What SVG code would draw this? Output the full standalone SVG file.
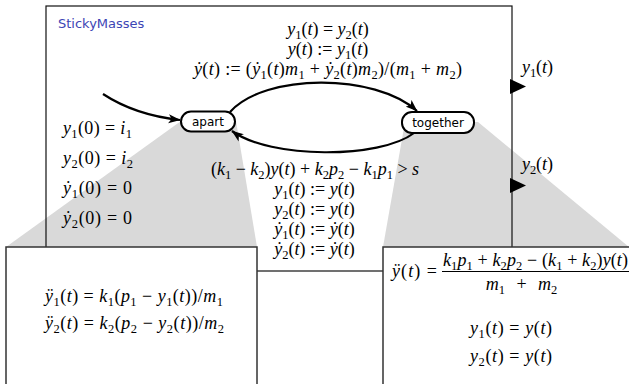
<svg xmlns="http://www.w3.org/2000/svg" width="629" height="384" viewBox="0 0 629 384">
<style>
.m{font-family:"Liberation Serif","DejaVu Serif","Times New Roman",serif;font-size:18px;fill:#000}
.i{font-style:italic}
.s{font-size:12.5px;font-style:normal}
.c{text-anchor:middle}
.sans{font-family:"DejaVu Sans","Liberation Sans",sans-serif}
.node{fill:#fff;stroke:#000;stroke-width:2}
.nl{font-size:12px;fill:#000;text-anchor:middle}
.shade{fill:#d9d9d9;stroke:none}
.box{fill:#fff;stroke:#333;stroke-width:1.5}
.edge{fill:none;stroke:#000;stroke-width:2.2}
.port{fill:#000}
</style>
<defs>
<marker id="ah" viewBox="0 0 12 10" refX="11.5" refY="5" markerWidth="12" markerHeight="10" markerUnits="userSpaceOnUse" orient="auto">
<path d="M0,0.5 L12,5 L0,9.5 L3,5 Z" fill="#000"/>
</marker>
</defs>

<g id="StickyMasses">
<rect x="46" y="6" width="466" height="265" fill="#fff" stroke="none"/>
<polygon class="shade" points="181,121 236,121 257,247 6,247"/>
<polygon class="shade" points="405,122 478,122 629,247 383,247"/>
<rect x="46" y="6" width="466" height="265" fill="none" stroke="#111" stroke-width="1.2"/>
<text class="sans" x="58" y="28" font-size="13" fill="#3c45b5">StickyMasses</text>
</g>

<g id="ports">
<polygon class="port" points="510,79 526,86.5 510,94"/>
<polygon class="port" points="510,178 526,185.5 510,193"/>
<text class="m" x="522" y="73" textLength="31" lengthAdjust="spacing"><tspan class="i">y</tspan><tspan class="s" dy="3.5">1</tspan><tspan dy="-3.5">(</tspan><tspan class="i">t</tspan>)</text>
<text class="m" x="522" y="170" textLength="31" lengthAdjust="spacing"><tspan class="i">y</tspan><tspan class="s" dy="3.5">2</tspan><tspan dy="-3.5">(</tspan><tspan class="i">t</tspan>)</text>
</g>

<g id="initial-values">
<text class="m" x="63" y="134" textLength="69" lengthAdjust="spacing"><tspan class="i">y</tspan><tspan class="s" dy="3.5">1</tspan><tspan dy="-3.5">(0) = </tspan><tspan class="i">i</tspan><tspan class="s" dy="3.5">1</tspan></text>
<text class="m" x="63" y="164" textLength="70" lengthAdjust="spacing"><tspan class="i">y</tspan><tspan class="s" dy="3.5">2</tspan><tspan dy="-3.5">(0) = </tspan><tspan class="i">i</tspan><tspan class="s" dy="3.5">2</tspan></text>
<text class="m" x="63" y="194" textLength="69" lengthAdjust="spacing"><tspan class="i">ẏ</tspan><tspan class="s" dy="3.5">1</tspan><tspan dy="-3.5">(0) = 0</tspan></text>
<text class="m" x="63" y="224" textLength="69" lengthAdjust="spacing"><tspan class="i">ẏ</tspan><tspan class="s" dy="3.5">2</tspan><tspan dy="-3.5">(0) = 0</tspan></text>
</g>

<g id="connectors">
<path class="edge" d="M103,94 Q135,115 180,120" marker-end="url(#ah)"/>
<path class="edge" d="M230,112 C265,73 375,73 417,111" marker-end="url(#ah)"/>
<path class="edge" d="M414,133 C380,159 270,159 232,131" marker-end="url(#ah)"/>
</g>

<g id="label-apart-to-together">
<text class="m c"><tspan x="328" y="35"><tspan class="i">y</tspan><tspan class="s" dy="3.5">1</tspan><tspan dy="-3.5">(</tspan><tspan class="i">t</tspan>) = <tspan class="i">y</tspan><tspan class="s" dy="3.5">2</tspan><tspan dy="-3.5">(</tspan><tspan class="i">t</tspan>)</tspan><tspan x="328" y="55"><tspan class="i">y</tspan>(<tspan class="i">t</tspan>) := <tspan class="i">y</tspan><tspan class="s" dy="3.5">1</tspan><tspan dy="-3.5">(</tspan><tspan class="i">t</tspan>)</tspan><tspan x="328" y="75" textLength="268" lengthAdjust="spacing"><tspan class="i">ẏ</tspan>(<tspan class="i">t</tspan>) := (<tspan class="i">ẏ</tspan><tspan class="s" dy="3.5">1</tspan><tspan dy="-3.5">(</tspan><tspan class="i">t</tspan>)<tspan class="i">m</tspan><tspan class="s" dy="3.5">1</tspan><tspan dy="-3.5"> + </tspan><tspan class="i">ẏ</tspan><tspan class="s" dy="3.5">2</tspan><tspan dy="-3.5">(</tspan><tspan class="i">t</tspan>)<tspan class="i">m</tspan><tspan class="s" dy="3.5">2</tspan><tspan dy="-3.5">)/(</tspan><tspan class="i">m</tspan><tspan class="s" dy="3.5">1</tspan><tspan dy="-3.5"> + </tspan><tspan class="i">m</tspan><tspan class="s" dy="3.5">2</tspan><tspan dy="-3.5">)</tspan></tspan></text>
</g>

<g id="label-together-to-apart">
<text class="m c"><tspan x="315" y="175">(<tspan class="i">k</tspan><tspan class="s" dy="3.5">1</tspan><tspan dy="-3.5"> − </tspan><tspan class="i">k</tspan><tspan class="s" dy="3.5">2</tspan><tspan dy="-3.5">)</tspan><tspan class="i">y</tspan>(<tspan class="i">t</tspan>) + <tspan class="i">k</tspan><tspan class="s" dy="3.5">2</tspan><tspan class="i" dy="-3.5">p</tspan><tspan class="s" dy="3.5">2</tspan><tspan dy="-3.5"> − </tspan><tspan class="i">k</tspan><tspan class="s" dy="3.5">1</tspan><tspan class="i" dy="-3.5">p</tspan><tspan class="s" dy="3.5">1</tspan><tspan dy="-3.5"> &gt; </tspan><tspan class="i">s</tspan></tspan><tspan x="314.5" y="195"><tspan class="i">y</tspan><tspan class="s" dy="3.5">1</tspan><tspan dy="-3.5">(</tspan><tspan class="i">t</tspan>) := <tspan class="i">y</tspan>(<tspan class="i">t</tspan>)</tspan><tspan x="314.5" y="215"><tspan class="i">y</tspan><tspan class="s" dy="3.5">2</tspan><tspan dy="-3.5">(</tspan><tspan class="i">t</tspan>) := <tspan class="i">y</tspan>(<tspan class="i">t</tspan>)</tspan><tspan x="314.5" y="235"><tspan class="i">ẏ</tspan><tspan class="s" dy="3.5">1</tspan><tspan dy="-3.5">(</tspan><tspan class="i">t</tspan>) := <tspan class="i">ẏ</tspan>(<tspan class="i">t</tspan>)</tspan><tspan x="314.5" y="255"><tspan class="i">ẏ</tspan><tspan class="s" dy="3.5">2</tspan><tspan dy="-3.5">(</tspan><tspan class="i">t</tspan>) := <tspan class="i">ẏ</tspan>(<tspan class="i">t</tspan>)</tspan></text>
</g>

<g id="apart">
<rect class="node" x="181" y="111.5" width="54" height="20" rx="10"/>
<text class="sans nl" x="208" y="125.5">apart</text>
</g>

<g id="together">
<rect class="node" x="402" y="112" width="72" height="21" rx="10"/>
<text class="sans nl" x="438" y="126.5">together</text>
</g>

<g id="refinement-apart">
<rect class="box" x="6" y="247" width="251" height="140"/>
<text class="m" x="45" y="302" textLength="178" lengthAdjust="spacing"><tspan class="i">ÿ</tspan><tspan class="s" dy="3.5">1</tspan><tspan dy="-3.5">(</tspan><tspan class="i">t</tspan>) = <tspan class="i">k</tspan><tspan class="s" dy="3.5">1</tspan><tspan dy="-3.5">(</tspan><tspan class="i">p</tspan><tspan class="s" dy="3.5">1</tspan><tspan dy="-3.5"> − </tspan><tspan class="i">y</tspan><tspan class="s" dy="3.5">1</tspan><tspan dy="-3.5">(</tspan><tspan class="i">t</tspan>))/<tspan class="i">m</tspan><tspan class="s" dy="3.5">1</tspan></text>
<text class="m" x="45" y="329" textLength="179" lengthAdjust="spacing"><tspan class="i">ÿ</tspan><tspan class="s" dy="3.5">2</tspan><tspan dy="-3.5">(</tspan><tspan class="i">t</tspan>) = <tspan class="i">k</tspan><tspan class="s" dy="3.5">2</tspan><tspan dy="-3.5">(</tspan><tspan class="i">p</tspan><tspan class="s" dy="3.5">2</tspan><tspan dy="-3.5"> − </tspan><tspan class="i">y</tspan><tspan class="s" dy="3.5">2</tspan><tspan dy="-3.5">(</tspan><tspan class="i">t</tspan>))/<tspan class="i">m</tspan><tspan class="s" dy="3.5">2</tspan></text>
</g>

<g id="refinement-together">
<rect class="box" x="383" y="247" width="250" height="140"/>
<text class="m" x="392" y="277" textLength="45" lengthAdjust="spacing"><tspan class="i">ÿ</tspan>(<tspan class="i">t</tspan>) =</text>
<text class="m" x="443" y="266" textLength="185" lengthAdjust="spacing"><tspan class="i">k</tspan><tspan class="s" dy="3.5">1</tspan><tspan class="i" dy="-3.5">p</tspan><tspan class="s" dy="3.5">1</tspan><tspan dy="-3.5"> + </tspan><tspan class="i">k</tspan><tspan class="s" dy="3.5">2</tspan><tspan class="i" dy="-3.5">p</tspan><tspan class="s" dy="3.5">2</tspan><tspan dy="-3.5"> − (</tspan><tspan class="i">k</tspan><tspan class="s" dy="3.5">1</tspan><tspan dy="-3.5"> + </tspan><tspan class="i">k</tspan><tspan class="s" dy="3.5">2</tspan><tspan dy="-3.5">)</tspan><tspan class="i">y</tspan>(<tspan class="i">t</tspan>)</text>
<line x1="442" y1="271.5" x2="629" y2="271.5" stroke="#000" stroke-width="1"/>
<text class="m c" x="521.5" y="290"><tspan class="i">m</tspan><tspan class="s" dy="3.5">1</tspan><tspan dy="-3.5" dx="7"> + </tspan><tspan class="i" dx="7">m</tspan><tspan class="s" dy="3.5">2</tspan></text>
<text class="m c" x="511" y="334" textLength="82" lengthAdjust="spacing"><tspan class="i">y</tspan><tspan class="s" dy="3.5">1</tspan><tspan dy="-3.5">(</tspan><tspan class="i">t</tspan>) = <tspan class="i">y</tspan>(<tspan class="i">t</tspan>)</text>
<text class="m c" x="511" y="362" textLength="82" lengthAdjust="spacing"><tspan class="i">y</tspan><tspan class="s" dy="3.5">2</tspan><tspan dy="-3.5">(</tspan><tspan class="i">t</tspan>) = <tspan class="i">y</tspan>(<tspan class="i">t</tspan>)</text>
</g>
</svg>
